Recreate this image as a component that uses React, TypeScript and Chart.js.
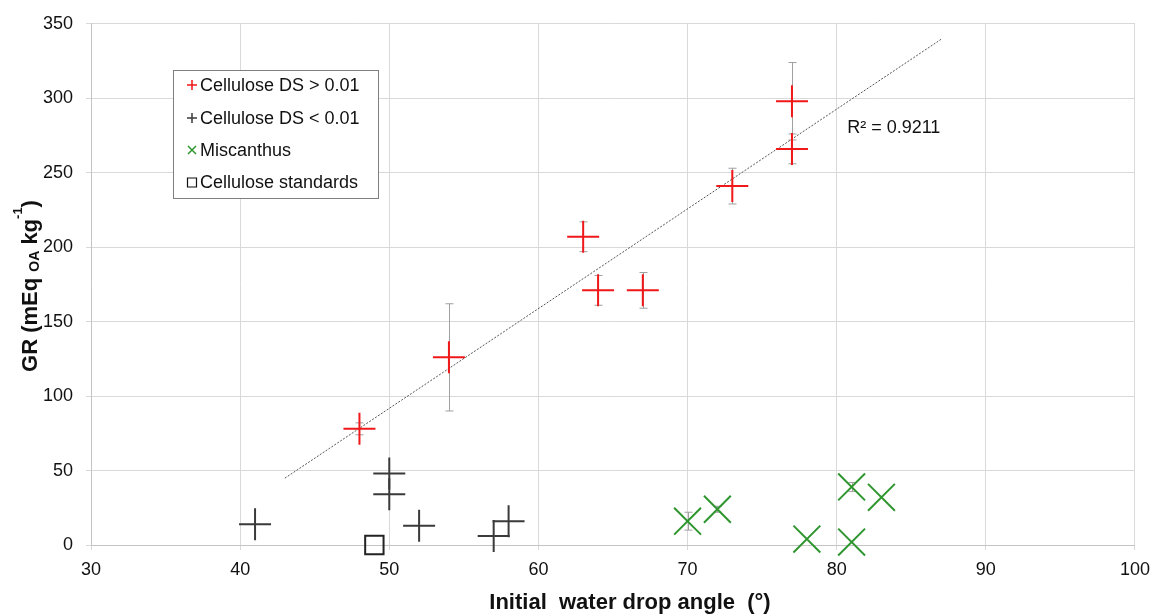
import React, { useEffect, useRef } from "react";
import { Chart, registerables } from "chart.js";

Chart.register(...registerables);

// ---- data ----
const xMin = 30;
const xMax = 100;
const xStep = 10;
const yMin = 0;
const yMax = 350;
const yStep = 50;

const seriesLabels = [
  "Cellulose DS > 0.01",
  "Cellulose DS < 0.01",
  "Miscanthus",
  "Cellulose standards",
];

const redX = [48, 54, 63, 64, 67, 73, 77, 77];
const redY = [78, 126, 207, 171, 171, 241, 266, 298];
const redErr = [4, 36, 10, 10, 12, 12, 10, 26];

const blackX = [41, 50, 50, 52, 57, 58];
const blackY = [14, 48, 34, 13, 6, 16];

const greenX = [70, 72, 78, 81, 81, 83];
const greenY = [16, 24, 4, 39, 2, 32];
const greenErr = [6, 2, 0, 3, 0, 0];

const stdX = [49];
const stdY = [0];

const trendRange = [43, 87];
const r2Label = "R² = 0.9211";
const r2Pos = [80.7, 280];

const xTitle = "Initial  water drop angle  (°)";

// ---- styles ----
const RED = "#f01818";
const DARK = "#3a3a3a";
const GREEN = "#2f962f";
const FONT = "'Liberation Sans', Arial, sans-serif";

function regression(xs: number[], ys: number[]) {
  const n = xs.length;
  const mx = xs.reduce((a, b) => a + b, 0) / n;
  const my = ys.reduce((a, b) => a + b, 0) / n;
  let sxy = 0;
  let sxx = 0;
  for (let i = 0; i < n; i++) {
    sxy += (xs[i] - mx) * (ys[i] - my);
    sxx += (xs[i] - mx) * (xs[i] - mx);
  }
  const slope = sxy / sxx;
  return { slope, intercept: my - slope * mx };
}

const errorBarPlugin = {
  id: "errorBars",
  beforeDatasetsDraw(chart: any) {
    const ctx = chart.ctx;
    const xs = chart.scales.x;
    const ys = chart.scales.y;
    ctx.save();
    ctx.strokeStyle = "#a0a0a0";
    ctx.lineWidth = 1;
    const draw = (X: number[], Y: number[], E: number[]) => {
      for (let i = 0; i < X.length; i++) {
        if (!E[i]) continue;
        const px = Math.round(xs.getPixelForValue(X[i])) + 0.5;
        const top = ys.getPixelForValue(Y[i] + E[i]);
        const bot = ys.getPixelForValue(Y[i] - E[i]);
        ctx.beginPath();
        ctx.moveTo(px, top);
        ctx.lineTo(px, bot);
        ctx.moveTo(px - 4, top);
        ctx.lineTo(px + 4, top);
        ctx.moveTo(px - 4, bot);
        ctx.lineTo(px + 4, bot);
        ctx.stroke();
      }
    };
    draw(redX, redY, redErr);
    draw(greenX, greenY, greenErr);
    ctx.restore();
  },
};

const overlayPlugin = {
  id: "overlay",
  afterDraw(chart: any) {
    const ctx = chart.ctx;
    const xs = chart.scales.x;
    const ys = chart.scales.y;
    ctx.save();

    // legend box
    const lx = 173.5;
    const ly = 70.5;
    const lw = 205;
    const lh = 128;
    ctx.fillStyle = "#ffffff";
    ctx.fillRect(lx, ly, lw, lh);
    ctx.strokeStyle = "#7f7f7f";
    ctx.lineWidth = 1;
    ctx.strokeRect(lx, ly, lw, lh);
    const rows = [85, 118, 150, 182];
    const mx = 192;
    ctx.lineWidth = 1.5;
    rows.forEach((ry, i) => {
      ctx.beginPath();
      if (i === 0 || i === 1) {
        ctx.strokeStyle = i === 0 ? RED : DARK;
        ctx.moveTo(mx - 5, ry);
        ctx.lineTo(mx + 5, ry);
        ctx.moveTo(mx, ry - 5);
        ctx.lineTo(mx, ry + 5);
      } else if (i === 2) {
        ctx.strokeStyle = GREEN;
        ctx.moveTo(mx - 4, ry - 4);
        ctx.lineTo(mx + 4, ry + 4);
        ctx.moveTo(mx + 4, ry - 4);
        ctx.lineTo(mx - 4, ry + 4);
      } else {
        ctx.strokeStyle = "#111";
        ctx.lineWidth = 1.2;
        ctx.rect(mx - 4.5, ry - 4, 9, 9);
      }
      ctx.stroke();
      ctx.fillStyle = "#111";
      ctx.font = `18px ${FONT}`;
      ctx.textAlign = "left";
      ctx.textBaseline = "middle";
      ctx.fillText(seriesLabels[i], 200, ry + 1);
    });

    // R² label
    ctx.fillStyle = "#111";
    ctx.font = `18px ${FONT}`;
    ctx.textAlign = "left";
    ctx.textBaseline = "middle";
    ctx.fillText(r2Label, xs.getPixelForValue(r2Pos[0]), ys.getPixelForValue(r2Pos[1]));

    // x title
    ctx.font = `bold 22px ${FONT}`;
    ctx.textAlign = "center";
    ctx.textBaseline = "alphabetic";
    ctx.fillText(xTitle, 630, 609);

    // y title with subscript / superscript
    const parts = [
      { t: "GR (mEq ", s: 22, dy: 0 },
      { t: "OA", s: 14, dy: 2 },
      { t: " kg", s: 22, dy: 0 },
      { t: "-1", s: 13, dy: -15 },
      { t: ")", s: 22, dy: 0 },
    ];
    let total = 0;
    parts.forEach((p) => {
      ctx.font = `bold ${p.s}px ${FONT}`;
      total += ctx.measureText(p.t).width;
    });
    ctx.translate(37, 286);
    ctx.rotate(-Math.PI / 2);
    ctx.textAlign = "left";
    let u = -total / 2;
    parts.forEach((p) => {
      ctx.font = `bold ${p.s}px ${FONT}`;
      ctx.fillText(p.t, u, p.dy);
      u += ctx.measureText(p.t).width;
    });
    ctx.restore();
  },
};

export default function App() {
  const ref = useRef<HTMLCanvasElement | null>(null);

  useEffect(() => {
    if (!ref.current) return;
    const reg = regression(redX, redY);
    const trend = trendRange.map((x) => ({ x, y: reg.slope * x + reg.intercept }));
    const toPts = (X: number[], Y: number[]) => X.map((x, i) => ({ x, y: Y[i] }));

    const chart = new Chart(ref.current, {
      type: "scatter",
      data: {
        datasets: [
          {
            label: "trend",
            data: trend,
            showLine: true,
            borderColor: "#555555",
            borderWidth: 1,
            borderDash: [2, 1.5],
            pointRadius: 0,
            order: 10,
            clip: false,
          } as any,
          {
            label: seriesLabels[0],
            data: toPts(redX, redY),
            pointStyle: "cross",
            pointRadius: 16,
            borderColor: RED,
            backgroundColor: RED,
            pointBorderWidth: 2,
            order: 1,
            clip: false,
          } as any,
          {
            label: seriesLabels[1],
            data: toPts(blackX, blackY),
            pointStyle: "cross",
            pointRadius: 16,
            borderColor: DARK,
            backgroundColor: DARK,
            pointBorderWidth: 2,
            order: 2,
            clip: false,
          } as any,
          {
            label: seriesLabels[2],
            data: toPts(greenX, greenY),
            pointStyle: "crossRot",
            pointRadius: 19,
            borderColor: GREEN,
            backgroundColor: GREEN,
            pointBorderWidth: 2,
            order: 3,
            clip: false,
          } as any,
          {
            label: seriesLabels[3],
            data: toPts(stdX, stdY),
            pointStyle: "rect",
            pointRadius: 13,
            borderColor: "#222222",
            backgroundColor: "rgba(255,255,255,0)",
            pointBorderWidth: 2,
            order: 4,
            clip: false,
          } as any,
        ],
      },
      options: {
        responsive: false,
        animation: false,
        devicePixelRatio: 1,
        layout: { padding: { top: 23, right: 20, left: 0, bottom: 0 } },
        plugins: {
          legend: { display: false },
          tooltip: { enabled: false },
          title: { display: false },
        },
        scales: {
          x: {
            type: "linear",
            min: xMin,
            max: xMax,
            ticks: {
              stepSize: xStep,
              color: "#111",
              font: { family: FONT, size: 18 },
              padding: 9,
              maxRotation: 0,
            },
            grid: { color: "#d9d9d9", lineWidth: 1, tickLength: 5, drawTicks: true },
            border: { color: "#c4c4c4" },
            afterFit: (s: any) => {
              s.height = 71;
            },
          },
          y: {
            type: "linear",
            min: yMin,
            max: yMax,
            ticks: {
              stepSize: yStep,
              color: "#111",
              font: { family: FONT, size: 18 },
              padding: 13,
            },
            grid: { color: "#d9d9d9", lineWidth: 1, tickLength: 5, drawTicks: true },
            border: { color: "#c4c4c4" },
            afterFit: (s: any) => {
              s.width = 91;
            },
          },
        } as any,
      },
      plugins: [errorBarPlugin, overlayPlugin],
    });
    return () => chart.destroy();
  }, []);

  return (
    <div style={{ position: "absolute", left: 0, top: 0, width: 1159, height: 616, background: "#fff" }}>
      <canvas ref={ref} width={1159} height={616} style={{ width: 1159, height: 616 }} />
    </div>
  );
}
